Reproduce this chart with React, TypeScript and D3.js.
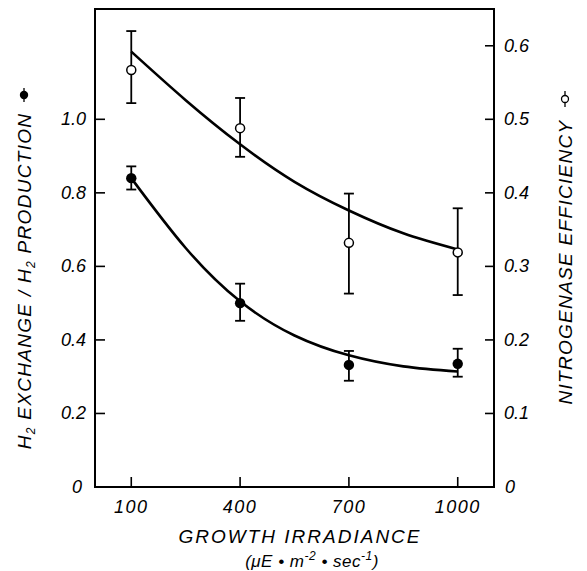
import React from "react";
import * as d3 from "d3";

const irradiance = [100, 400, 700, 1000];
const ratioMean = [0.84, 0.5, 0.332, 0.335];
const ratioHi = [0.872, 0.553, 0.37, 0.376];
const ratioLo = [0.809, 0.452, 0.289, 0.3];
const effMean = [0.567, 0.488, 0.332, 0.319];
const effHi = [0.62, 0.529, 0.399, 0.379];
const effLo = [0.522, 0.449, 0.263, 0.261];

const fitX = [100, 250, 400, 550, 700, 850, 1000];
const ratioFit = [0.84, 0.65, 0.505, 0.412, 0.358, 0.328, 0.314];
const effFit = [0.592, 0.526, 0.466, 0.415, 0.376, 0.345, 0.323];

const xTicks = [100, 400, 700, 1000];
const leftTicks = [0, 0.2, 0.4, 0.6, 0.8, 1.0];
const rightTicks = [0, 0.1, 0.2, 0.3, 0.4, 0.5, 0.6];

const W = 587, H = 571;
const L = 95, R = 494, T = 9, B = 487;

export default function App() {
  const x = d3.scaleLinear().domain([0, 1100]).range([L, R]);
  const yL = d3.scaleLinear().domain([0, 1.3]).range([B, T]);
  const yR = d3.scaleLinear().domain([0, 0.65]).range([B, T]);
  const fontFam = "'Liberation Sans', Arial, sans-serif";
  const lineL = d3.line<number>().x((_, i) => x(fitX[i])).y((d) => yL(d)).curve(d3.curveNatural);
  const lineR = d3.line<number>().x((_, i) => x(fitX[i])).y((d) => yR(d)).curve(d3.curveNatural);
  const cap = 5;
  const fmt = (v: number) => (v === 0 ? "0" : v.toFixed(1));
  return (
    <svg width={W} height={H} style={{ position: "absolute", left: 0, top: 0, background: "#fff" }}
      fontFamily={fontFam} fontStyle="italic">
      <rect x={0} y={0} width={W} height={H} fill="#fff" />
      <rect x={L} y={T} width={R - L} height={B - T} fill="none" stroke="#000" strokeWidth={2} />
      {leftTicks.filter((t) => t > 0).map((t) => (
        <line key={"lt" + t} x1={L} x2={L + 10} y1={yL(t)} y2={yL(t)} stroke="#000" strokeWidth={1.6} />
      ))}
      {rightTicks.filter((t) => t > 0).map((t) => (
        <line key={"rt" + t} x1={R - 9} x2={R} y1={yR(t)} y2={yR(t)} stroke="#000" strokeWidth={1.6} />
      ))}
      {xTicks.map((t) => (
        <line key={"xt" + t} x1={x(t)} x2={x(t)} y1={B} y2={B - 10} stroke="#000" strokeWidth={1.6} />
      ))}
      {leftTicks.map((t) => (
        <text key={"ll" + t} x={t === 0 ? 82 : 86} y={yL(t) + 6} textAnchor="end" fontSize={18}>{fmt(t)}</text>
      ))}
      {rightTicks.map((t) => (
        <text key={"rl" + t} x={t === 0 ? 505 : 504} y={yR(t) + 6} textAnchor="start" fontSize={18}>{fmt(t)}</text>
      ))}
      {xTicks.map((t) => (
        <text key={"xl" + t} x={x(t)} y={513} textAnchor="middle" fontSize={18} letterSpacing={1.5}>{t}</text>
      ))}
      <text x={300} y={543} textAnchor="middle" fontSize={19} letterSpacing={2}>GROWTH IRRADIANCE</text>
      <text x={312} y={567} textAnchor="middle" fontSize={17} letterSpacing={0.5}>
        (μE • m<tspan dy={-7} fontSize={12}>-2</tspan><tspan dy={7}> • sec</tspan><tspan dy={-7} fontSize={12}>-1</tspan><tspan dy={7}>)</tspan>
      </text>
      <text transform="translate(31,281) rotate(-90)" textAnchor="middle" fontSize={19} letterSpacing={1.3}>
        H<tspan fontSize={12} dy={4}>2</tspan><tspan dy={-4}> EXCHANGE / H</tspan><tspan fontSize={12} dy={4}>2</tspan><tspan dy={-4}> PRODUCTION</tspan>
      </text>
      <circle cx={24} cy={95} r={4.2} fill="#000" />
      <line x1={24} x2={24} y1={88} y2={102} stroke="#000" strokeWidth={1.3} />
      <text transform="translate(572,262) rotate(-90)" textAnchor="middle" fontSize={19} letterSpacing={1.3}>
        NITROGENASE  EFFICIENCY
      </text>
      <circle cx={565} cy={99} r={3.5} fill="#fff" stroke="#000" strokeWidth={1.3} />
      <line x1={565} x2={565} y1={102.5} y2={107} stroke="#000" strokeWidth={1.3} />
      <line x1={565} x2={565} y1={91} y2={95.5} stroke="#000" strokeWidth={1.3} />
      <path d={lineL(ratioFit) || ""} fill="none" stroke="#000" strokeWidth={2.6} />
      <path d={lineR(effFit) || ""} fill="none" stroke="#000" strokeWidth={2.6} />
      {irradiance.map((v, i) => (
        <g key={"f" + v}>
          <line x1={x(v)} x2={x(v)} y1={yL(ratioHi[i])} y2={yL(ratioLo[i])} stroke="#000" strokeWidth={1.8} />
          <line x1={x(v) - cap} x2={x(v) + cap} y1={yL(ratioHi[i])} y2={yL(ratioHi[i])} stroke="#000" strokeWidth={1.8} />
          <line x1={x(v) - cap} x2={x(v) + cap} y1={yL(ratioLo[i])} y2={yL(ratioLo[i])} stroke="#000" strokeWidth={1.8} />
          <circle cx={x(v)} cy={yL(ratioMean[i])} r={5.2} fill="#000" />
        </g>
      ))}
      {irradiance.map((v, i) => (
        <g key={"o" + v}>
          <line x1={x(v)} x2={x(v)} y1={yR(effHi[i])} y2={yR(effLo[i])} stroke="#000" strokeWidth={1.8} />
          <line x1={x(v) - cap} x2={x(v) + cap} y1={yR(effHi[i])} y2={yR(effHi[i])} stroke="#000" strokeWidth={1.8} />
          <line x1={x(v) - cap} x2={x(v) + cap} y1={yR(effLo[i])} y2={yR(effLo[i])} stroke="#000" strokeWidth={1.8} />
          <circle cx={x(v)} cy={yR(effMean[i])} r={4.5} fill="#fff" stroke="#000" strokeWidth={1.5} />
        </g>
      ))}
    </svg>
  );
}
